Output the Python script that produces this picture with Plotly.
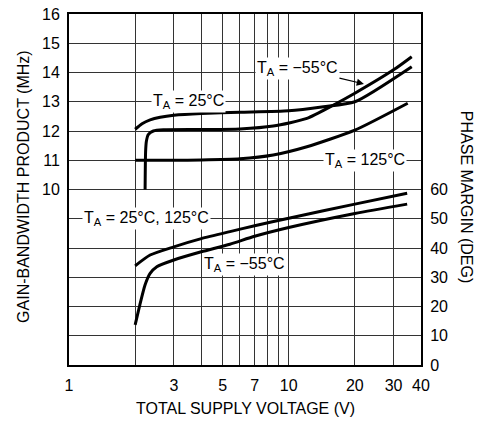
import numpy as np
import plotly.graph_objects as go

# ---- data ----
v_gbw_25 = [2.0, 2.15, 2.34, 2.6, 3.0, 4.0, 6.0, 10.0, 14.4, 20.0, 36.3]
gbw_25 = [12.06, 12.25, 12.38, 12.47, 12.54, 12.60, 12.64, 12.69, 12.83, 13.0, 14.20]

v_gbw_m55 = [2.22, 2.232, 2.25, 2.295, 2.42, 2.69, 4.0, 6.0, 8.5, 12.1, 16.0, 20.0, 30.0, 36.3]
gbw_m55 = [10.0, 11.3, 11.65, 11.88, 12.0, 12.04, 12.05, 12.07, 12.17, 12.43, 12.89, 13.29, 14.09, 14.54]

v_gbw_125 = [2.0, 3.0, 4.0, 6.0, 8.5, 12.1, 20.0, 34.8]
gbw_125 = [11.0, 11.0, 11.01, 11.05, 11.18, 11.46, 12.03, 12.95]

v_pm_hot = [2.0, 2.34, 3.0, 4.0, 5.4, 7.0, 10.0, 20.0, 34.6]
pm_hot = [33.9, 37.6, 40.4, 43.2, 45.6, 47.6, 50.2, 55.0, 58.7]

v_pm_m55 = [2.0, 2.1, 2.22, 2.34, 2.51, 3.0, 4.0, 5.4, 7.0, 10.0, 20.0, 34.6]
pm_m55 = [13.7, 20.5, 27.4, 31.3, 33.6, 35.9, 38.7, 41.3, 44.0, 47.0, 51.8, 55.0]

x_tickvals = [1, 2, 3, 4, 5, 6, 7, 8, 9, 10, 20, 30, 40]
x_ticktext = ["1", "", "3", "", "5", "", "7", "", "", "10", "20", "30", "40"]
gbw_tickvals = [4, 5, 6, 7, 8, 9, 10, 11, 12, 13, 14, 15, 16]
gbw_ticktext = ["", "", "", "", "", "", "10", "11", "12", "13", "14", "15", "16"]
pm_tickvals = [0, 10, 20, 30, 40, 50, 60]

FONT = "Liberation Sans, Arial, sans-serif"
FS = 16
LINE = dict(color="black", width=3, shape="spline", smoothing=0.6)

fig = go.Figure()
fig.add_trace(go.Scatter(x=v_gbw_25, y=gbw_25, mode="lines", line=LINE, yaxis="y"))
fig.add_trace(go.Scatter(x=v_gbw_m55, y=gbw_m55, mode="lines", line=LINE, yaxis="y"))
fig.add_trace(go.Scatter(x=v_gbw_125, y=gbw_125, mode="lines", line=LINE, yaxis="y"))
fig.add_trace(go.Scatter(x=v_pm_hot, y=pm_hot, mode="lines", line=LINE, yaxis="y2"))
fig.add_trace(go.Scatter(x=v_pm_m55, y=pm_m55, mode="lines", line=LINE, yaxis="y2"))

lbl_font = dict(family=FONT, size=FS, color="black")
ann = []
labels = [
    ("T<sub>A</sub> = 25°C", 3.5, 13.0, "y"),
    ("T<sub>A</sub> = 125°C", 22.2, 11.0, "y"),
    ("T<sub>A</sub> = 25°C, 125°C", 2.25, 50.0, "y2"),
    ("T<sub>A</sub> = −55°C", 6.32, 34.2, "y2"),
]
for txt, xv, yv, yr in labels:
    ann.append(dict(text=txt, x=np.log10(xv), y=yv, xref="x", yref=yr,
                    showarrow=False, bgcolor="white", borderpad=1, font=lbl_font))
ann.append(dict(text="T<sub>A</sub> = −55°C", x=np.log10(22.0), y=13.61, xref="x", yref="y",
                ax=np.log10(10.96), ay=14.15, axref="x", ayref="y",
                showarrow=True, arrowhead=2, arrowsize=1.2, arrowwidth=1.2, arrowcolor="black",
                bgcolor="white", borderpad=1, font=lbl_font))
ann.append(dict(text="GAIN-BANDWIDTH PRODUCT (MHz)", textangle=-90, x=-0.128, y=0.51,
                xanchor="center", yanchor="middle",
                xref="paper", yref="paper", showarrow=False, font=dict(family=FONT, size=FS, color="black")))
ann.append(dict(text="PHASE MARGIN (DEG)", textangle=90, x=1.128, y=0.479,
                xanchor="center", yanchor="middle",
                xref="paper", yref="paper", showarrow=False, font=dict(family=FONT, size=FS, color="black")))
ann.append(dict(text="TOTAL SUPPLY VOLTAGE (V)", x=0.5, y=-0.125,
                xanchor="center", yanchor="middle",
                xref="paper", yref="paper", showarrow=False, font=dict(family=FONT, size=FS, color="black")))

fig.update_layout(
    width=487, height=423,
    margin=dict(l=69, r=66, t=14, b=58, autoexpand=False),
    paper_bgcolor="white", plot_bgcolor="white",
    showlegend=False,
    font=dict(family=FONT, size=FS, color="black"),
    xaxis=dict(type="log", range=[0, np.log10(40)], tickvals=x_tickvals, ticktext=x_ticktext,
               showgrid=True, gridcolor="#333", gridwidth=1, zeroline=False,
               showline=True, linecolor="black", linewidth=2, mirror=True, automargin=False,
               ticks="outside", ticklen=5, tickcolor="rgba(0,0,0,0)"),
    yaxis=dict(range=[4, 16], tickvals=gbw_tickvals, ticktext=gbw_ticktext,
               showgrid=True, gridcolor="#333", gridwidth=1, zeroline=False, automargin=False,
               showline=True, linecolor="black", linewidth=2, mirror=True,
               ticks="outside", ticklen=4, tickcolor="rgba(0,0,0,0)"),
    yaxis2=dict(range=[0, 120], tickvals=pm_tickvals, overlaying="y", side="right",
                showgrid=False, zeroline=False, showline=False, automargin=False,
                ticks="outside", ticklen=5, tickcolor="rgba(0,0,0,0)"),
    annotations=ann,
)

fig.write_html("out.html", config={"displayModeBar": False},
               post_script="document.body.style.margin='0';")
